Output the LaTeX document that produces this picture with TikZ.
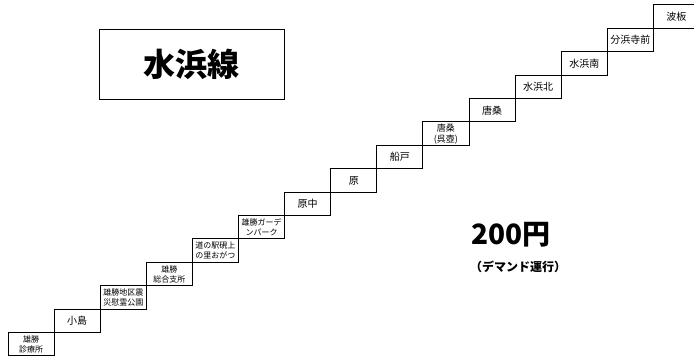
\documentclass[tikz,border=0pt]{standalone}
\usepackage{fontspec}
\setmainfont{Noto Sans CJK JP}
\begin{document}
\begin{tikzpicture}[x=1pt,y=1pt,
  stopbox/.style={rectangle, draw=black, line width=1pt, minimum width=46.1pt, minimum height=23.4pt, inner sep=0pt, align=center, font=\fontsize{10}{12}\selectfont},
  stoptwo/.style={stopbox, font=\fontsize{8}{10}\selectfont},
  titlebox/.style={rectangle, draw=black, line width=0.8pt, minimum width=185pt, minimum height=69.7pt, font=\fontsize{32}{36}\selectfont\bfseries}]
\useasboundingbox (0,0) rectangle (694,356);
\node [titlebox] (title) at (191.8,291.8) {水浜線};
\node [stoptwo] (shinryosho) at (31.05,11.7) {雄勝\\診療所};
\node [stopbox] (kojima) at (77.15,35.1) {小島};
\node [stoptwo] (ireikoen) at (123.25,58.5) {雄勝地区震\\災慰霊公園};
\node [stoptwo] (sogoshisho) at (169.35,81.9) {雄勝\\総合支所};
\node [stoptwo] (michinoeki) at (215.45,105.3) {道の駅硯上\\の里おがつ};
\node [stoptwo] (garden) at (261.55,128.7) {雄勝ガーデ\\ンパーク};
\node [stopbox] (haranaka) at (307.65,152.1) {原中};
\node [stopbox] (hara) at (353.75,175.5) {原};
\node [stopbox] (funato) at (399.85,198.9) {船戸};
\node [stopbox, font=\fontsize{9}{11}\selectfont] (karakuwakure) at (445.95,222.3) {唐桑\\(呉壺)};
\node [stopbox] (karakuwa) at (492.05,245.7) {唐桑};
\node [stopbox] (mizuhamakita) at (538.15,269.1) {水浜北};
\node [stopbox] (mizuhamaminami) at (584.25,292.5) {水浜南};
\node [stopbox] (wakehama) at (630.35,315.9) {分浜寺前};
\node [stopbox] (namiita) at (676.45,339.3) {波板};
\node [font=\fontsize{28}{32}\selectfont\bfseries] (fare) at (511,121) {200円};
\node [font=\fontsize{12}{14}\selectfont\bfseries] (demand) at (518,89.5) {（デマンド運行）};
\end{tikzpicture}
\end{document}
